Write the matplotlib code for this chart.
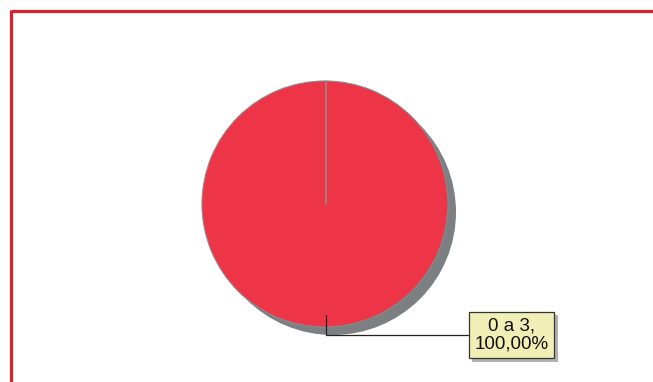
import matplotlib
matplotlib.use("Agg")
import numpy as np
import matplotlib.pyplot as plt
from matplotlib.patches import Circle
import matplotlib.patheffects as pe

# data
categories = ["0 a 3"]
values = [100.0]
labels = [f"{c},\n{v:.2f}%".replace(".", ",") for c, v in zip(categories, values)]

W, H = 653, 382
fig = plt.figure(figsize=(W / 100, H / 100), dpi=100)
ax = fig.add_axes([0, 0, 1, 1])

cx, cy, r = 325, H - 204, 123
start = 90

# frame (top + left only)
ax.plot([10.8, W + 5], [H - 10.8, H - 10.8], color="#d9222e", lw=2.3, solid_capstyle="butt", zorder=1)
ax.plot([10.8, 10.8], [H - 10.8 + 1, -5], color="#d9222e", lw=2.3, solid_capstyle="butt", zorder=1)

# shadow
ax.add_patch(Circle((cx + 8, cy - 8), r, facecolor="#7c8082", edgecolor="none", zorder=2))

wedges, _ = ax.pie(values, center=(cx, cy), radius=r, startangle=start, counterclock=False,
                   colors=["#ee3447"], frame=True,
                   wedgeprops=dict(edgecolor="#8a8a8a", linewidth=0.8, zorder=3))
# slice boundary edges
acc = start
for v in values:
    a = np.deg2rad(acc)
    ax.plot([cx + 0.5, cx + 0.5 + r * np.cos(a)], [cy, cy + r * np.sin(a)],
            color="#8f8f8f", lw=1.1, zorder=4)
    acc -= v / sum(values) * 360

ax.set_xlim(0, W)
ax.set_ylim(0, H)
ax.set_aspect("equal")
ax.axis("off")

ann = ax.annotate(labels[0], xy=(cx + 0.5, H - 315), xytext=(511.5, H - 335),
                  ha="center", va="center", fontsize=13.5, family="Liberation Sans",
                  color="#111111", linespacing=1.12,
                  bbox=dict(boxstyle="square,pad=0.3", facecolor="#f2efb6",
                            edgecolor="#333333", linewidth=0.9),
                  arrowprops=dict(arrowstyle="-", color="#222222", lw=0.9,
                                  connectionstyle="angle,angleA=0,angleB=90,rad=0",
                                  shrinkA=0, shrinkB=0),
                  zorder=5)
ann.get_bbox_patch().set_path_effects([
    pe.SimplePatchShadow(offset=(2.5, -2.5), shadow_rgbFace="#909090", alpha=0.7),
    pe.Normal()])

fig.savefig("out.png", dpi=100)
